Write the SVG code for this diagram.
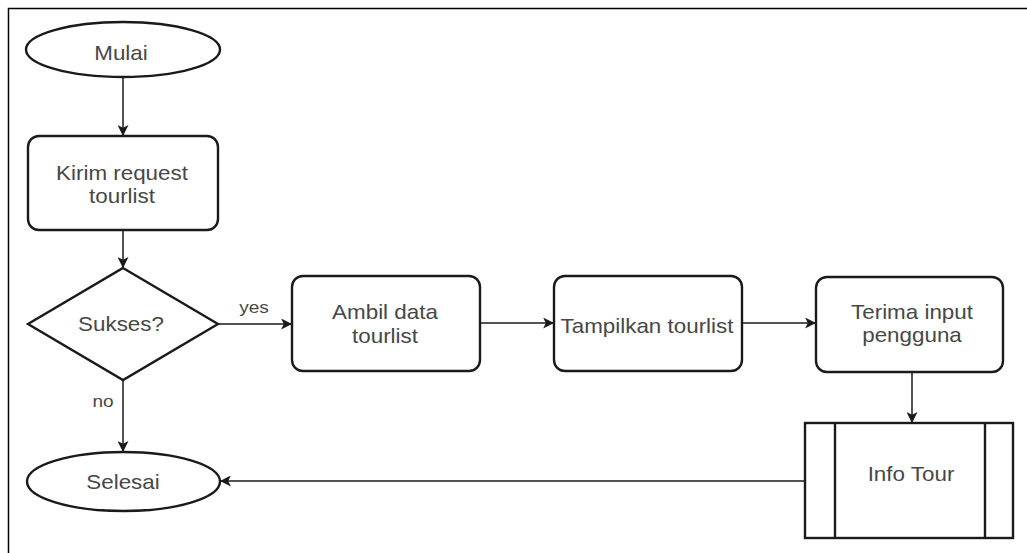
<svg xmlns="http://www.w3.org/2000/svg" width="1027" height="553" viewBox="0 0 1027 553">
  <style>
    .shape { fill: #ffffff; stroke: #1a1a1a; stroke-width: 2.4; }
    .edge { fill: none; stroke: #1a1a1a; stroke-width: 1.5; }
    .label { font-family: "Liberation Sans", Arial, sans-serif; font-size: 20px; fill: #474747; text-anchor: middle; }
    .small { font-family: "Liberation Sans", Arial, sans-serif; font-size: 17px; fill: #474747; text-anchor: middle; }
  </style>
  <defs>
    <marker id="arrow" viewBox="0 0 10 10" refX="9" refY="5" markerWidth="11" markerHeight="11" markerUnits="userSpaceOnUse" orient="auto">
      <path d="M0,0 L10,5 L0,10 L2.5,5 Z" fill="#1a1a1a"/>
    </marker>
  </defs>
  <rect x="0" y="0" width="1027" height="553" fill="#ffffff"/>
  <!-- frame -->
  <path d="M8.5,553 L8.5,8.5 L1027,8.5" fill="none" stroke="#000000" stroke-width="1.5"/>

  <g id="connectors">
    <path class="edge" d="M123,77 L123,135" marker-end="url(#arrow)"/>
    <path class="edge" d="M123,230 L123,267" marker-end="url(#arrow)"/>
    <path class="edge" d="M218,324 L291,324" marker-end="url(#arrow)"/>
    <path class="edge" d="M123,380 L123,451" marker-end="url(#arrow)"/>
    <path class="edge" d="M480,323 L553,323" marker-end="url(#arrow)"/>
    <path class="edge" d="M742,323 L815,323" marker-end="url(#arrow)"/>
    <path class="edge" d="M912,372 L912,422" marker-end="url(#arrow)"/>
    <path class="edge" d="M805,481 L221,481" marker-end="url(#arrow)"/>
    <text class="small" transform="translate(254,313) scale(1.12,1)">yes</text>
    <text class="small" transform="translate(103,407) scale(1.12,1)">no</text>
  </g>

  <g id="mulai">
    <ellipse class="shape" cx="123" cy="49.5" rx="97" ry="27.5"/>
    <text class="label" transform="translate(121,60) scale(1.12,1)">Mulai</text>
  </g>

  <g id="kirim-request">
    <rect class="shape" x="28" y="136" width="190" height="94" rx="11"/>
    <text class="label" transform="translate(122,180) scale(1.12,1)">Kirim request</text>
    <text class="label" transform="translate(122,203) scale(1.12,1)">tourlist</text>
  </g>

  <g id="sukses">
    <polygon class="shape" points="123,268 218,324 123,380 28,324"/>
    <text class="label" transform="translate(121,331) scale(1.12,1)">Sukses?</text>
  </g>

  <g id="selesai">
    <ellipse class="shape" cx="123.5" cy="481.5" rx="96.5" ry="29.5"/>
    <text class="label" transform="translate(123,489) scale(1.12,1)">Selesai</text>
  </g>

  <g id="ambil-data">
    <rect class="shape" x="292" y="276" width="188" height="95" rx="11"/>
    <text class="label" transform="translate(385,319) scale(1.12,1)">Ambil data</text>
    <text class="label" transform="translate(385,343) scale(1.12,1)">tourlist</text>
  </g>

  <g id="tampilkan">
    <rect class="shape" x="554" y="276" width="188" height="95" rx="11"/>
    <text class="label" transform="translate(647,333) scale(1.12,1)">Tampilkan tourlist</text>
  </g>

  <g id="terima-input">
    <rect class="shape" x="816" y="277" width="187" height="95" rx="11"/>
    <text class="label" transform="translate(912,319) scale(1.12,1)">Terima input</text>
    <text class="label" transform="translate(912,342) scale(1.12,1)">pengguna</text>
  </g>

  <g id="info-tour">
    <rect class="shape" x="805" y="423" width="208" height="115"/>
    <line class="shape" x1="835" y1="423" x2="835" y2="538"/>
    <line class="shape" x1="985" y1="423" x2="985" y2="538"/>
    <text class="label" transform="translate(911,481) scale(1.12,1)">Info Tour</text>
  </g>
</svg>
